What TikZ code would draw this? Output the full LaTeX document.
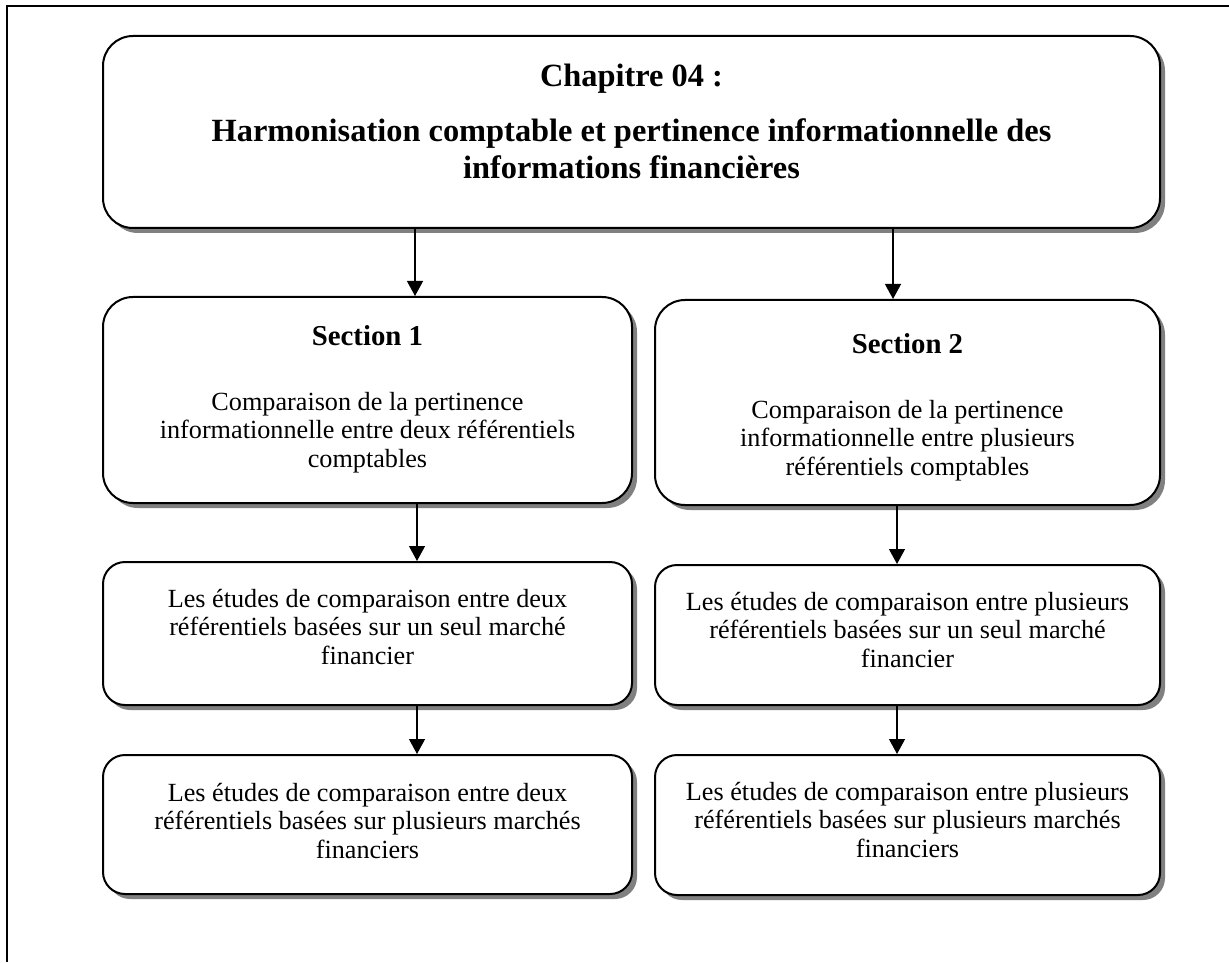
\documentclass[tikz,border=0pt]{standalone}
\usepackage{fontspec}
\setmainfont{Liberation Serif}
\usepackage{tikz}
\usetikzlibrary{arrows.meta,shadows}
\definecolor{PlanLine}{HTML}{000000}
\definecolor{PlanShadow}{HTML}{808080}

\begin{document}
\begin{tikzpicture}[x=0.5pt,y=-0.5pt,
  panel/.style={draw=PlanLine,line width=1pt,fill=white,inner sep=0pt,rounded corners=#1,
    drop shadow={shadow xshift=2.5pt,shadow yshift=-2.5pt,fill=PlanShadow,opacity=1}},
  titletext/.style={align=center,font=\fontsize{16.2}{18.5}\selectfont\bfseries},
  bodytext/.style={align=center,font=\fontsize{13.1}{14.2}\selectfont},
  arr/.style={-{Triangle[length=7.5pt,width=8pt]},line width=0.6pt,draw=PlanLine}
]
\useasboundingbox (0,0) rectangle (1229,962);
% page frame
\draw[line width=1.2pt,PlanLine] (1229,6) -- (7,6) -- (7,962);

% boxes
\node[panel=15pt,minimum width=528.5pt,minimum height=96pt] (chap) at (631.5,132) {};
\node[panel=15pt,minimum width=264.5pt,minimum height=103pt] (sec1) at (367.5,400) {};
\node[panel=15pt,minimum width=252.5pt,minimum height=102.5pt] (sec2) at (907.5,402.5) {};
\node[panel=11pt,minimum width=264.5pt,minimum height=71.5pt] (mono1) at (367.5,633.5) {};
\node[panel=11pt,minimum width=252.5pt,minimum height=70pt] (mono2) at (907.5,635) {};
\node[panel=11pt,minimum width=264.5pt,minimum height=69.5pt] (multi1) at (367.5,824.5) {};
\node[panel=11pt,minimum width=252.5pt,minimum height=70pt] (multi2) at (907.5,825) {};

% texts
\node[titletext] (chaptxt) at (631.5,121) {Chapitre 04 :\\[9pt]Harmonisation comptable et pertinence informationnelle des\\informations financières};
\node[bodytext] (sec1txt) at (367.5,399) {{\fontsize{14.4}{17}\selectfont\bfseries Section 1}\\[18.5pt]Comparaison de la pertinence\\informationnelle entre deux référentiels\\comptables};
\node[bodytext] (sec2txt) at (907.5,407) {{\fontsize{14.4}{17}\selectfont\bfseries Section 2}\\[18.5pt]Comparaison de la pertinence\\informationnelle entre plusieurs\\référentiels comptables};
\node[bodytext] (mono1txt) at (367.5,627) {Les études de comparaison entre deux\\référentiels basées sur un seul marché\\financier};
\node[bodytext] (mono2txt) at (907.5,630) {Les études de comparaison entre plusieurs\\référentiels basées sur un seul marché\\financier};
\node[bodytext] (multi1txt) at (367.5,821) {Les études de comparaison entre deux\\référentiels basées sur plusieurs marchés\\financiers};
\node[bodytext] (multi2txt) at (907.5,820) {Les études de comparaison entre plusieurs\\référentiels basées sur plusieurs marchés\\financiers};

% connectors
\coordinate (colA) at (415,0);
\coordinate (colB) at (893,0);
\coordinate (colC) at (417,0);
\coordinate (colD) at (897,0);
\draw[arr] (chap.south -| colA) -- (sec1.north -| colA);
\draw[arr] (chap.south -| colB) -- (sec2.north -| colB);
\draw[arr] (sec1.south -| colC) -- (mono1.north -| colC);
\draw[arr] (sec2.south -| colD) -- (mono2.north -| colD);
\draw[arr] (mono1.south -| colC) -- (multi1.north -| colC);
\draw[arr] (mono2.south -| colD) -- (multi2.north -| colD);
\end{tikzpicture}
\end{document}
